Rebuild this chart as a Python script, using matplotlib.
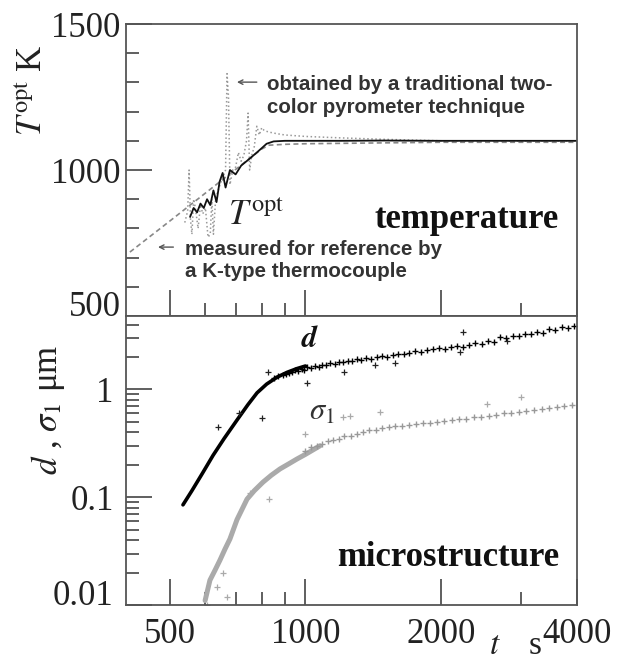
import matplotlib
matplotlib.use('Agg')
import matplotlib.pyplot as plt
from matplotlib.ticker import FixedLocator, NullFormatter

plt.rcParams['font.family'] = ['Liberation Serif', 'DejaVu Serif']
plt.rcParams['mathtext.fontset'] = 'stix'

# ---------------- data ----------------
# top panel: thermocouple reference (dashed gray)
ref_t = [408, 420, 500, 600, 700, 800, 830, 900, 1000, 1500, 2000, 3000, 4000]
ref_T = [719, 734, 825, 921, 1002, 1072, 1085, 1088, 1090, 1093, 1095, 1095, 1095]

# two-colour pyrometer (dotted gray, with spikes)
pyro_t = [540, 548, 552, 556, 560, 565, 570, 578, 585, 592, 600, 608, 615, 620,
          625, 632, 640, 650, 658, 665, 670, 675, 680, 690, 700, 710, 720, 730,
          740, 746, 752, 760, 770, 780, 790, 800, 810, 830, 860, 900, 1000, 1200,
          1500, 2000, 2500, 3000, 3500, 4000]
pyro_T = [820, 860, 1000, 830, 780, 900, 870, 800, 880, 850, 870, 770, 780, 900,
          780, 900, 930, 960, 980, 1000, 1330, 1250, 950, 1000, 1010, 1060, 1030, 1050,
          1100, 1195, 1000, 1050, 1080, 1150, 1120, 1145, 1135, 1130, 1125, 1120, 1115, 1110,
          1105, 1100, 1100, 1100, 1100, 1100]

# T_opt (black)
topt_t = [555, 565, 575, 585, 595, 605, 615, 625, 635, 645, 655, 665, 680, 700,
          720, 740, 760, 780, 800, 820, 850, 900, 1000, 1200, 1500, 2000, 2500,
          3000, 3500, 4000]
topt_T = [840, 870, 855, 885, 870, 900, 880, 930, 890, 960, 990, 940, 1000, 985,
          1015, 1030, 1045, 1060, 1075, 1090, 1098, 1100, 1100, 1100, 1101, 1100, 1100,
          1100, 1100, 1100]

# bottom panel: d (black)
d_line_t = [535, 560, 590, 624, 660, 705, 745, 781, 820, 865, 910, 957, 1000]
d_line_v = [0.085, 0.115, 0.165, 0.245, 0.35, 0.52, 0.72, 0.93, 1.12, 1.30, 1.44, 1.56, 1.65]
d_pts_t = [850, 870, 890, 905, 920, 935, 950, 965, 980, 995, 1010, 1030, 1050, 1070,
           1090, 1110, 1135, 1160, 1185, 1210, 1240, 1270, 1300, 1330, 1360, 1400,
           1440, 1480, 1520, 1560, 1600, 1650, 1700, 1750, 1800, 1860, 1920, 1980,
           2040, 2100, 2170, 2240, 2310, 2380, 2460, 2540, 2620, 2700, 2790, 2880,
           2970, 3060, 3160, 3260, 3360, 3470, 3580, 3700, 3820, 3940]
d_pts_v = [1.28, 1.33, 1.36, 1.40, 1.42, 1.45, 1.50, 1.47, 1.55, 1.52, 1.60, 1.58, 1.66,
           1.63, 1.70, 1.68, 1.75, 1.72, 1.80, 1.78, 1.85, 1.82, 1.90, 1.88, 1.95, 1.93,
           2.00, 2.05, 2.02, 2.10, 2.15, 2.12, 2.20, 2.25, 2.22, 2.30, 2.35, 2.40, 2.38,
           2.45, 2.55, 2.50, 2.60, 2.70, 2.65, 2.80, 2.75, 3.05, 3.00, 3.15, 3.10, 3.30,
           3.25, 3.40, 3.35, 3.60, 3.55, 3.80, 3.75, 3.90]
d_out_t = [641, 712, 800, 827, 1010, 1216, 1429, 1576, 2196, 2230, 2800]
d_out_v = [0.45, 0.60, 0.54, 1.46, 1.14, 1.46, 1.69, 1.75, 2.24, 3.40, 2.80]

# bottom panel: sigma_1 (gray)
s_line_t = [599, 614, 630, 646, 663, 680, 705, 742, 770, 805, 840, 878, 920, 957, 1000, 1077]
s_line_v = [0.011, 0.017, 0.021, 0.026, 0.033, 0.041, 0.062, 0.096, 0.115, 0.138, 0.16,
            0.183, 0.205, 0.226, 0.25, 0.30]
s_pts_t = [1000, 1030, 1060, 1090, 1120, 1150, 1185, 1220, 1260, 1300, 1340, 1380, 1430,
           1480, 1530, 1580, 1640, 1700, 1760, 1820, 1890, 1960, 2030, 2110, 2190, 2270,
           2360, 2450, 2550, 2650, 2750, 2860, 2970, 3090, 3210, 3340, 3470, 3610, 3750, 3900]
s_pts_v = [0.27, 0.29, 0.30, 0.31, 0.33, 0.34, 0.35, 0.37, 0.37, 0.39, 0.40, 0.42, 0.42,
           0.44, 0.45, 0.46, 0.46, 0.47, 0.48, 0.49, 0.49, 0.50, 0.51, 0.52, 0.53, 0.53,
           0.55, 0.56, 0.57, 0.58, 0.60, 0.60, 0.62, 0.63, 0.65, 0.66, 0.67, 0.68, 0.70, 0.71]
s_out_t = [605, 637, 656, 670, 755, 828, 997, 1212, 1256, 1460, 2530, 3000]
s_out_v = [0.010, 0.0148, 0.020, 0.0118, 0.11, 0.096, 0.39, 0.55, 0.57, 0.62, 0.74, 0.86]

x_major = [500, 1000, 2000, 4000]
x_labels = ['500', '1000', '2000', '4000']
x_minor = [600, 700, 800, 900, 3000]
T_major = [500, 1000, 1500]
T_labels = ['500', '1000', '1500']
T_minor = [600, 700, 800, 900, 1100, 1200, 1300, 1400]
d_major = [0.01, 0.1, 1]
d_labels = ['0.01', '0.1', '1']
d_minor = [0.02, 0.03, 0.04, 0.05, 0.06, 0.07, 0.08, 0.09,
           0.2, 0.3, 0.4, 0.5, 0.6, 0.7, 0.8, 0.9, 2, 3, 4]

# ---------------- figure ----------------
fig = plt.figure(figsize=(6.26, 6.6), dpi=100)
ax1 = fig.add_axes([0.2013, 0.5212, 0.7204, 0.4424])
ax2 = fig.add_axes([0.2013, 0.0833, 0.7204, 0.4379])

TICKC = '#444'
LABC = '#222'
for ax in (ax1, ax2):
    ax.set_xscale('log')
    ax.set_xlim(400, 4000)
    for sp in ax.spines.values():
        sp.set_color('#555')
        sp.set_linewidth(1.3)
    ax.xaxis.set_major_locator(FixedLocator(x_major))
    ax.xaxis.set_minor_locator(FixedLocator(x_minor))
    ax.xaxis.set_minor_formatter(NullFormatter())
    ax.tick_params(which='major', direction='in', length=19, width=1.2, color=TICKC,
                   labelsize=25, labelcolor=LABC, top=False, right=False)
    ax.tick_params(which='minor', direction='in', length=9.5, width=1.2, color=TICKC,
                   top=False, right=False)

# top panel
ax1.set_ylim(500, 1500)
ax1.plot(ref_t, ref_T, color='#888888', ls=(0, (3, 2)), lw=1.2)
ax1.plot(pyro_t, pyro_T, color='#999999', ls=':', lw=1.1)
ax1.plot(topt_t, topt_T, color='#111111', lw=1.3)
ax1.yaxis.set_major_locator(FixedLocator(T_major))
ax1.yaxis.set_minor_locator(FixedLocator(T_minor))
ax1.set_yticklabels(T_labels)
ax1.tick_params(axis='x', labelbottom=False)
ax1.tick_params(axis='y', which='major', pad=4)

# bottom panel
ax2.set_yscale('log')
ax2.set_ylim(0.01, 4.8)
ax2.plot(s_line_t, s_line_v, color='#aaaaaa', lw=3.6, solid_capstyle='round')
ax2.plot(s_pts_t, s_pts_v, '+', color='#999999', ms=4.5, mew=1.0)
ax2.plot(s_out_t, s_out_v, '+', color='#aaaaaa', ms=4, mew=0.9)
ax2.plot(d_line_t, d_line_v, color='black', lw=2.6, solid_capstyle='round')
ax2.plot(d_pts_t, d_pts_v, '+', color='black', ms=4.5, mew=1.0)
ax2.plot(d_out_t, d_out_v, '+', color='#222222', ms=4, mew=0.9)
ax2.yaxis.set_major_locator(FixedLocator(d_major))
ax2.yaxis.set_minor_locator(FixedLocator(d_minor))
ax2.yaxis.set_minor_formatter(NullFormatter())
ax2.set_yticklabels(d_labels)
ax2.set_xticklabels(x_labels)
ax2.tick_params(axis='y', which='major', pad=9)
ax2.tick_params(axis='x', which='major', pad=9)

# lift the bottom tick label of each panel slightly off the shared edge
ax1.get_yticklabels()[0].set_va('baseline')
ax2.get_yticklabels()[0].set_va('baseline')

# text in top panel
ax1.text(0.96, 0.329, 'temperature', transform=ax1.transAxes, ha='right', va='center',
         fontsize=25, fontweight='bold', color='#111111')
ax1.text(0.226, 0.31, r'$T^{\rm opt}$', transform=ax1.transAxes, ha='left', va='baseline',
         fontsize=25, color='#222222')
ann_kw = dict(family=['Liberation Sans', 'DejaVu Sans'], fontweight='bold', fontsize=14.8,
              color='#333333', transform=ax1.transAxes, ha='left', va='center',
              linespacing=1.25)
ax1.text(0.313, 0.753, 'obtained by a traditional two-\ncolor pyrometer technique', **ann_kw)
ax1.text(0.13, 0.19, 'measured for reference by\na K-type thermocouple', **ann_kw)
arr = dict(arrowstyle='->', color='#555555', lw=1.0, shrinkA=0, shrinkB=0,
           mutation_scale=8)
ax1.annotate('', xy=(0.246, 0.801), xytext=(0.29, 0.801), xycoords='axes fraction',
             textcoords='axes fraction', arrowprops=arr)
ax1.annotate('', xy=(0.071, 0.236), xytext=(0.105, 0.236), xycoords='axes fraction',
             textcoords='axes fraction', arrowprops=arr)

# text in bottom panel
ax2.text(0.96, 0.166, 'microstructure', transform=ax2.transAxes, ha='right', va='center',
         fontsize=25, fontweight='bold', color='#111111')
ax2.text(0.408, 0.917, r'$\boldsymbol{d}$', transform=ax2.transAxes, ha='center',
         va='center', fontsize=22, color='#111111')
ax2.text(0.435, 0.668, r'$\sigma_1$', transform=ax2.transAxes, ha='center',
         va='center', fontsize=22, color='#333333')

# axis labels
fig.text(33 / 626, 1 - 90 / 660, r'$T^{\rm opt}$ K', rotation=90, ha='center', va='center',
         fontsize=25, color=LABC)
fig.text(48 / 626, 1 - 410 / 660, r'$d$ , $\sigma_1$ μm', rotation=90, ha='center',
         va='center', fontsize=25, color=LABC)
fig.text(495 / 626, 1 - 646 / 660, r'$t$', ha='center', va='center', fontsize=24, color=LABC)
fig.text(535 / 626, 1 - 646 / 660, 's', ha='center', va='center', fontsize=24, color=LABC)

fig.savefig('out.png', dpi=100)
